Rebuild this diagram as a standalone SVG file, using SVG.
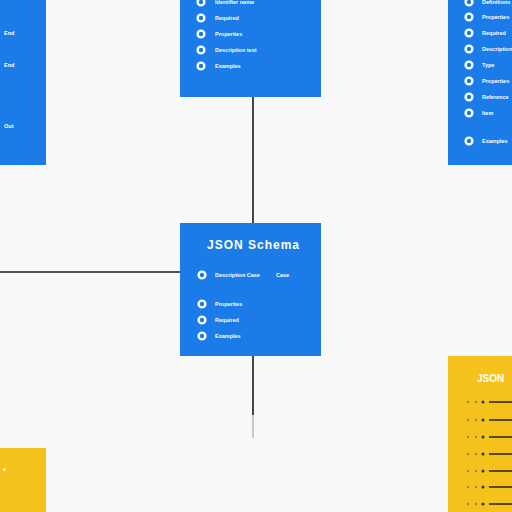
<svg xmlns="http://www.w3.org/2000/svg" width="512" height="512" viewBox="0 0 512 512">
<style>
.blue{fill:#1b7be8}
.yellow{fill:#f4c21a}
.lbl{fill:#ffffff;font-family:"Liberation Sans",Arial,sans-serif;font-size:5.5px;font-weight:bold}
.ttl{fill:#ffffff;font-family:"Liberation Sans",Arial,sans-serif;font-size:12px;font-weight:bold;letter-spacing:1px}
.ttl2{fill:#ffffff;font-family:"Liberation Sans",Arial,sans-serif;font-size:10px;font-weight:bold}
.dot{fill:#1b7be8;stroke:#ffffff;stroke-width:2.4}
.conn{stroke:#1a1a1a;stroke-width:1.6;fill:none}
.row{stroke:#222222;stroke-width:1.5}
.ydot{fill:#333333}
.ydotl{fill:#9a8a50}
</style>
<rect x="0" y="0" width="512" height="512" fill="#f8f8f8"/>
<g id="connectors">
<line class="conn" x1="253" y1="97" x2="253" y2="223"/>
<line class="conn" x1="0" y1="272" x2="180" y2="272"/>
<line class="conn" x1="253" y1="356" x2="253" y2="415"/>
<line x1="253" y1="415" x2="253" y2="438" stroke="#999999" stroke-width="1"/>
</g>
<g id="left-node">
<rect class="blue" x="0" y="0" width="46" height="165"/>
<text class="lbl" x="4" y="35">End</text>
<text class="lbl" x="4" y="67">End</text>
<text class="lbl" x="4" y="128">Out</text>
</g>
<g id="top-node">
<rect class="blue" x="180" y="0" width="141" height="97"/>
<circle class="dot" cx="201" cy="2" r="3.4"/>
<text class="lbl" x="215" y="4">Identifier name</text>
<circle class="dot" cx="201" cy="18" r="3.4"/>
<text class="lbl" x="215" y="20">Required</text>
<circle class="dot" cx="201" cy="34" r="3.4"/>
<text class="lbl" x="215" y="36">Properties</text>
<circle class="dot" cx="201" cy="50" r="3.4"/>
<text class="lbl" x="215" y="52">Description text</text>
<circle class="dot" cx="201" cy="66" r="3.4"/>
<text class="lbl" x="215" y="68">Examples</text>
</g>
<g id="right-node">
<rect class="blue" x="448" y="0" width="64" height="165"/>
<circle class="dot" cx="469" cy="2" r="3.4"/>
<text class="lbl" x="482" y="4">Definitions</text>
<circle class="dot" cx="469" cy="17" r="3.4"/>
<text class="lbl" x="482" y="19">Properties</text>
<circle class="dot" cx="469" cy="33" r="3.4"/>
<text class="lbl" x="482" y="35">Required</text>
<circle class="dot" cx="469" cy="49" r="3.4"/>
<text class="lbl" x="482" y="51">Description</text>
<circle class="dot" cx="469" cy="65" r="3.4"/>
<text class="lbl" x="482" y="67">Type</text>
<circle class="dot" cx="469" cy="81" r="3.4"/>
<text class="lbl" x="482" y="83">Properties</text>
<circle class="dot" cx="469" cy="97" r="3.4"/>
<text class="lbl" x="482" y="99">Reference</text>
<circle class="dot" cx="469" cy="113" r="3.4"/>
<text class="lbl" x="482" y="115">Item</text>
<circle class="dot" cx="469" cy="141" r="3.4"/>
<text class="lbl" x="482" y="143">Examples</text>
</g>
<g id="center-node">
<rect class="blue" x="180" y="223" width="141" height="133"/>
<text class="ttl" x="207" y="249">JSON Schema</text>
<circle class="dot" cx="202" cy="275" r="3.4"/>
<text class="lbl" x="215" y="277">Description Case</text>
<text class="lbl" x="276" y="277">Case</text>
<circle class="dot" cx="202" cy="304" r="3.4"/>
<text class="lbl" x="215" y="306">Properties</text>
<circle class="dot" cx="202" cy="320" r="3.4"/>
<text class="lbl" x="215" y="322">Required</text>
<circle class="dot" cx="202" cy="336" r="3.4"/>
<text class="lbl" x="215" y="338">Examples</text>
</g>
<g id="yellow-right-node">
<rect class="yellow" x="448" y="356" width="64" height="156"/>
<text class="ttl2" x="477" y="382">JSON</text>
<g>
<circle class="ydotl" cx="468" cy="402" r="1.2"/><circle class="ydotl" cx="476" cy="402" r="1.2"/><circle class="ydot" cx="483" cy="402" r="1.5"/><line class="row" x1="489" y1="402" x2="512" y2="402"/>
<circle class="ydotl" cx="468" cy="420" r="1.2"/><circle class="ydotl" cx="476" cy="420" r="1.2"/><circle class="ydot" cx="483" cy="420" r="1.5"/><line class="row" x1="489" y1="420" x2="512" y2="420"/>
<circle class="ydotl" cx="468" cy="437" r="1.2"/><circle class="ydotl" cx="476" cy="437" r="1.2"/><circle class="ydot" cx="483" cy="437" r="1.5"/><line class="row" x1="489" y1="437" x2="512" y2="437"/>
<circle class="ydotl" cx="468" cy="454" r="1.2"/><circle class="ydotl" cx="476" cy="454" r="1.2"/><circle class="ydot" cx="483" cy="454" r="1.5"/><line class="row" x1="489" y1="454" x2="512" y2="454"/>
<circle class="ydotl" cx="468" cy="471" r="1.2"/><circle class="ydotl" cx="476" cy="471" r="1.2"/><circle class="ydot" cx="483" cy="471" r="1.5"/><line class="row" x1="489" y1="471" x2="512" y2="471"/>
<circle class="ydotl" cx="468" cy="487" r="1.2"/><circle class="ydotl" cx="476" cy="487" r="1.2"/><circle class="ydot" cx="483" cy="487" r="1.5"/><line class="row" x1="489" y1="487" x2="512" y2="487"/>
<circle class="ydotl" cx="468" cy="504" r="1.2"/><circle class="ydotl" cx="476" cy="504" r="1.2"/><circle class="ydot" cx="483" cy="504" r="1.5"/><line class="row" x1="489" y1="504" x2="512" y2="504"/>
</g>
</g>
<g id="yellow-left-node">
<rect class="yellow" x="0" y="448" width="46" height="64"/>
<text class="lbl" x="3" y="471">e</text>
</g>
</svg>
